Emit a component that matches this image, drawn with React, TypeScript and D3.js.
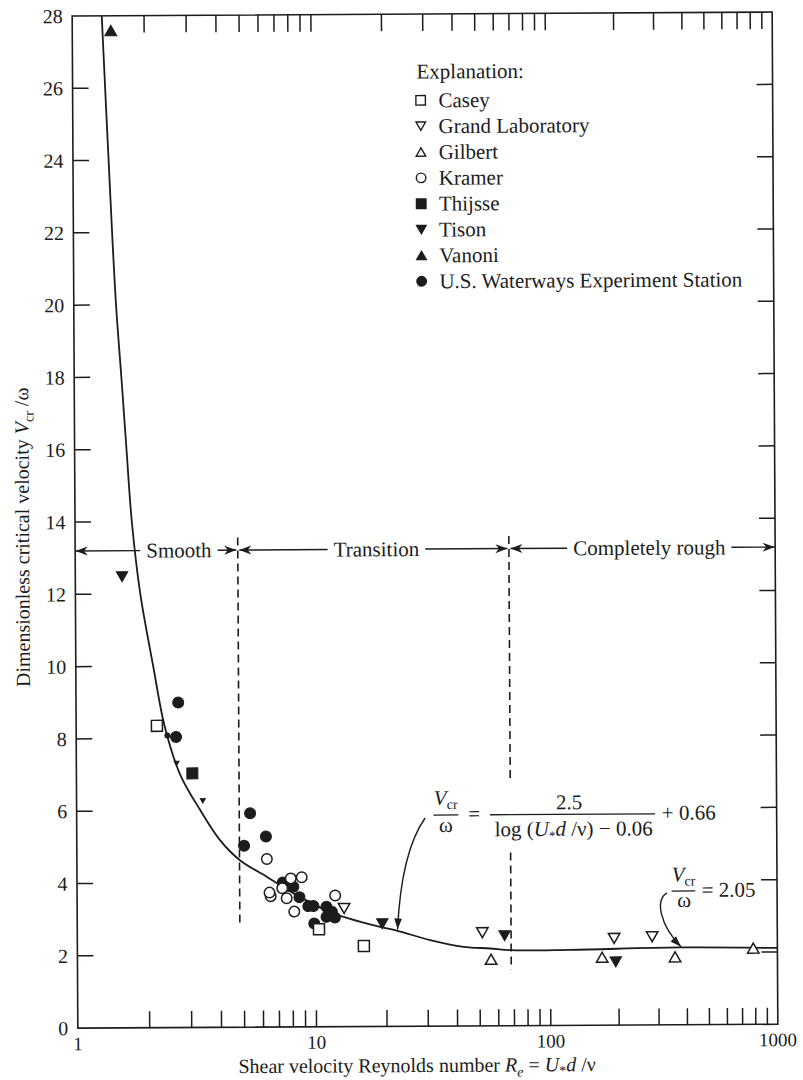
import { useEffect, useRef } from "react";
import * as d3 from "d3";

type Pt = [number, number];

const casey: Pt[] = [[2.18, 8.35], [10.3, 2.7], [16.0, 2.23]];
const grandLab: Pt[] = [[13.2, 3.27], [51.3, 2.58], [191, 2.4], [281, 2.44]];
const gilbert: Pt[] = [[55.8, 1.84], [169, 1.88], [354, 1.88], [783, 2.11]];
const kramer: Pt[] = [
  [6.25, 4.65], [7.86, 4.11], [8.74, 4.14], [7.24, 3.84], [6.47, 3.62],
  [6.4, 3.72], [7.55, 3.56], [8.12, 3.19], [12.1, 3.63],
];
const thijsse: Pt[] = [[3.06, 7.03]];
const tison: Pt[] = [[1.57, 12.48], [19.2, 2.84], [63.8, 2.49], [194, 1.75]];
const tisonSmall: Pt[] = [[2.63, 7.31], [3.38, 6.27]];
const vanoni: Pt[] = [[1.45, 27.59]];
const usw: Pt[] = [
  [2.68, 8.99], [2.62, 8.04], [5.33, 5.92], [6.2, 5.27], [5.02, 5.02],
  [7.28, 4.0], [8.06, 3.88], [7.8, 3.9], [8.54, 3.59], [9.3, 3.34],
  [9.77, 3.34], [11.1, 3.32], [11.7, 3.18], [11.1, 3.04], [12.05, 3.02],
  [9.84, 2.86],
];
const uswSmall: Pt[] = [[2.41, 8.08]];

// fitted curve as drawn
const curveRe = [1.33, 1.41, 1.5, 1.58, 1.65, 1.73, 1.87, 2.11, 2.35, 2.72, 3.29, 3.98, 4.82, 6.23, 8.04, 11.8, 18.6, 22.1, 30.7, 42.6, 55.3, 67.3, 122, 372, 1000];
const curveV = [28.0, 24.0, 20.1, 17.9, 16.0, 14.0, 12.0, 10.0, 8.33, 7.0, 6.02, 5.18, 4.62, 4.16, 3.7, 3.14, 2.76, 2.65, 2.38, 2.19, 2.14, 2.09, 2.09, 2.14, 2.11];

const legendNames = [
  "Casey", "Grand Laboratory", "Gilbert", "Kramer",
  "Thijsse", "Tison", "Vanoni", "U.S. Waterways Experiment Station",
];
const legendKinds = [
  "squareOpen", "downOpen", "upOpen", "circleOpen",
  "squareFilled", "downFilled", "upFilled", "circleFilled",
];

// ticks
const xLabels = [1, 10, 100, 1000];
const xMinor = [2, 3, 4, 5, 6, 7, 8, 9, 10, 20, 30, 40, 50, 60, 70, 80, 90, 100, 200, 300, 400, 500, 600, 700, 800, 900];
const yLabels = [0, 2, 4, 6, 8, 10, 12, 14, 16, 18, 20, 22, 24, 26, 28];
const yMinor = [2, 4, 6, 8, 10, 12, 14, 16, 18, 20, 22, 24, 26];

// flow regimes
const regionNames = ["Smooth", "Transition", "Completely rough"];
const regionEdges = [1, 4.8, 68, 1000];
const regionLabelRe = [2.72, 18.5, 279];
const regionRowV = 13.2;
// dashed boundaries: [Re, top, bottom]
const boundarySpans: [number, number, number][] = [
  [4.8, 13.55, 2.8],
  [68, 13.55, 6.73],
  [68, 4.79, 1.55],
];

const W = 803;
const H = 1080;
const tilt = -0.32;

function markerPath(kind: string, s: number) {
  const h = s * 0.87;
  const r = s / 2;
  if (kind.startsWith("square")) return `M${-r},${-r}h${s}v${s}h${-s}Z`;
  if (kind.startsWith("up")) return `M0,${-h / 2}L${r},${h / 2}L${-r},${h / 2}Z`;
  if (kind.startsWith("down")) return `M0,${h / 2}L${r},${-h / 2}L${-r},${-h / 2}Z`;
  const p = d3.path();
  p.arc(0, 0, r, 0, Math.PI * 2);
  return p.toString();
}

export default function App() {
  const ref = useRef<SVGSVGElement>(null);

  useEffect(() => {
    if (!ref.current) return;
    const svg = d3.select(ref.current);
    svg.selectAll("*").remove();

    const ink = "#1c1c1c";
    const font = "'Liberation Serif', 'Times New Roman', serif";

    // the scan has a slightly stretched last decade
    const x = d3.scaleLog().domain([1, 10, 100, 1000]).range([75, 313.7, 548, 775]);
    const y = d3.scaleLinear().domain([0, 28]).range([1026.2, 14]);

    svg.append("rect").attr("width", W).attr("height", H).attr("fill", "#fff");

    const g = svg
      .append("g")
      .attr("transform", `rotate(${tilt}, 425, 521)`)
      .attr("font-family", font)
      .attr("fill", ink);

    // frame
    g.append("rect")
      .attr("x", x(1))
      .attr("y", y(28))
      .attr("width", x(1000) - x(1))
      .attr("height", y(0) - y(28))
      .attr("fill", "none")
      .attr("stroke", ink)
      .attr("stroke-width", 1.6);

    // inward ticks
    const ticks = g.append("g").attr("stroke", ink).attr("stroke-width", 1.5);
    xMinor.forEach((v) => {
      ticks.append("line").attr("x1", x(v)).attr("x2", x(v)).attr("y1", y(0)).attr("y2", y(0) - 16.5);
      ticks.append("line").attr("x1", x(v)).attr("x2", x(v)).attr("y1", y(28)).attr("y2", y(28) + 17);
    });
    yMinor.forEach((v) => {
      ticks.append("line").attr("x1", x(1)).attr("x2", x(1) + 16).attr("y1", y(v)).attr("y2", y(v));
      ticks.append("line").attr("x1", x(1000) - 16).attr("x2", x(1000)).attr("y1", y(v)).attr("y2", y(v));
    });

    // tick labels
    g.append("g")
      .attr("font-size", 20)
      .attr("text-anchor", "end")
      .selectAll("text")
      .data(yLabels)
      .join("text")
      .attr("x", x(1) - 9.5)
      .attr("y", (d) => y(d) + 7)
      .text((d) => d);

    g.append("g")
      .attr("font-size", 19)
      .attr("text-anchor", "middle")
      .selectAll("text")
      .data(xLabels)
      .join("text")
      .attr("x", (d) => x(d))
      .attr("y", y(0) + 22)
      .text((d) => d);

    // axis titles
    const xt = g.append("text").attr("x", 414).attr("y", 1072).attr("font-size", 20).attr("text-anchor", "middle");
    xt.append("tspan").text("Shear velocity Reynolds number ");
    xt.append("tspan").attr("font-style", "italic").text("R");
    xt.append("tspan").attr("font-style", "italic").attr("font-size", 14).attr("dy", 5).text("e");
    xt.append("tspan").attr("dy", -5).text(" = ");
    xt.append("tspan").attr("font-style", "italic").text("U");
    xt.append("tspan").attr("font-size", 14).attr("dy", 4).text("*");
    xt.append("tspan").attr("font-style", "italic").attr("dy", -4).text("d");
    xt.append("tspan").text(" /ν");

    const yt = g
      .append("text")
      .attr("transform", "translate(29, 535) rotate(-90)")
      .attr("font-size", 20)
      .attr("text-anchor", "middle");
    yt.append("tspan").text("Dimensionless critical velocity ");
    yt.append("tspan").attr("font-style", "italic").text("V");
    yt.append("tspan").attr("font-size", 14).attr("dy", 5).text("cr");
    yt.append("tspan").attr("dy", -5).text(" /ω");

    // regime boundaries
    boundarySpans.forEach(([re, top, bot]) => {
      g.append("line")
        .attr("x1", x(re))
        .attr("x2", x(re))
        .attr("y1", y(top))
        .attr("y2", y(bot))
        .attr("stroke", ink)
        .attr("stroke-width", 1.6)
        .attr("stroke-dasharray", "8 5");
    });

    // regime arrows
    const rowY = y(regionRowV);
    const barb = (tip: number, dir: number) => {
      const L = 12, hw = 4.5, notch = 3.5;
      return `M${tip},${rowY}L${tip - dir * L},${rowY - hw}L${tip - dir * (L - notch)},${rowY}L${tip - dir * L},${rowY + hw}Z`;
    };
    regionNames.forEach((name, i) => {
      const a = x(regionEdges[i]) + (i === 0 ? 0.5 : 1.5);
      const b = x(regionEdges[i + 1]) - (i === 2 ? 0.5 : 1.5);
      const cx = x(regionLabelRe[i]);
      const t = g
        .append("text")
        .attr("x", cx)
        .attr("y", rowY + 7)
        .attr("font-size", 21)
        .attr("text-anchor", "middle")
        .text(name);
      const w = (t.node() as SVGTextElement).getComputedTextLength();
      const gap = 6;
      g.append("line").attr("x1", a).attr("x2", cx - w / 2 - gap).attr("y1", rowY).attr("y2", rowY).attr("stroke", ink).attr("stroke-width", 1.4);
      g.append("line").attr("x1", cx + w / 2 + gap).attr("x2", b).attr("y1", rowY).attr("y2", rowY).attr("stroke", ink).attr("stroke-width", 1.4);
      g.append("path").attr("d", barb(a, -1));
      g.append("path").attr("d", barb(b, 1));
    });

    // fitted curve
    const curvePts: Pt[] = curveRe.map((r, i) => [r, curveV[i]]);
    g.append("path")
      .datum(curvePts)
      .attr("fill", "none")
      .attr("stroke", ink)
      .attr("stroke-width", 1.8)
      .attr("d", d3.line<Pt>().x((d) => x(d[0])).y((d) => y(d[1])).curve(d3.curveCatmullRom.alpha(0.5)));

    // data markers
    const series: { kind: string; pts: Pt[]; size: number }[] = [
      { kind: "squareOpen", pts: casey, size: 11 },
      { kind: "downOpen", pts: grandLab, size: 11.5 },
      { kind: "upOpen", pts: gilbert, size: 11.5 },
      { kind: "circleOpen", pts: kramer, size: 10.5 },
      { kind: "squareFilled", pts: thijsse, size: 11 },
      { kind: "downFilled", pts: tison, size: 11.5 },
      { kind: "downFilled", pts: tisonSmall, size: 5 },
      { kind: "upFilled", pts: vanoni, size: 12 },
      { kind: "circleFilled", pts: usw, size: 11 },
      { kind: "circleFilled", pts: uswSmall, size: 5 },
    ];
    // filled first so open ones sit on top like in the print
    const order = [...series].sort((p, q) => Number(p.kind.endsWith("Open")) - Number(q.kind.endsWith("Open")));
    order.forEach((s) => {
      const open = s.kind.endsWith("Open");
      g.append("g")
        .selectAll("path")
        .data(s.pts)
        .join("path")
        .attr("transform", (d) => `translate(${x(d[0])},${y(d[1])})`)
        .attr("d", markerPath(s.kind, s.size))
        .attr("fill", open ? "#fff" : ink)
        .attr("stroke", ink)
        .attr("stroke-width", open ? 1.5 : 1);
    });

    // legend
    const lg = g.append("g").attr("font-size", 21);
    lg.append("text").attr("x", 419).attr("y", 78.5).text("Explanation:");
    legendNames.forEach((name, i) => {
      const by = 107.3 + i * 25.85;
      lg.append("path")
        .attr("transform", `translate(423,${by - 7})`)
        .attr("d", markerPath(legendKinds[i], 9.5))
        .attr("fill", legendKinds[i].endsWith("Open") ? "#fff" : ink)
        .attr("stroke", ink)
        .attr("stroke-width", 1.4);
      lg.append("text").attr("x", 440.7).attr("y", by).text(name);
    });

    // annotation arrows
    const head = (tip: [number, number], from: [number, number]) => {
      const ang = Math.atan2(tip[1] - from[1], tip[0] - from[0]);
      const L = 11, hw = 3.8;
      const bx = tip[0] - L * Math.cos(ang);
      const by = tip[1] - L * Math.sin(ang);
      const px = -Math.sin(ang) * hw;
      const py = Math.cos(ang) * hw;
      return `M${tip[0]},${tip[1]}L${bx + px},${by + py}L${bx - px},${by - py}Z`;
    };
    const P = (re: number, v: number): [number, number] => [x(re), y(v)];

    const a1s = P(29.4, 5.76), a1c = P(23.2, 4.82), a1t = P(22.3, 2.68);
    g.append("path")
      .attr("d", `M${a1s[0]},${a1s[1]}Q${a1c[0]},${a1c[1]} ${a1t[0]},${a1t[1]}`)
      .attr("fill", "none")
      .attr("stroke", ink)
      .attr("stroke-width", 1.4);
    g.append("path").attr("d", head(a1t, a1c));

    const a2s = P(327, 3.65), a2c1 = P(290, 3.45), a2c2 = P(304, 2.76), a2t = P(376, 2.16);
    g.append("path")
      .attr("d", `M${a2s[0]},${a2s[1]}C${a2c1[0]},${a2c1[1]} ${a2c2[0]},${a2c2[1]} ${a2t[0]},${a2t[1]}`)
      .attr("fill", "none")
      .attr("stroke", ink)
      .attr("stroke-width", 1.4);
    g.append("path").attr("d", head(a2t, a2c2));

    // equation: Vcr/w = 2.5 / (log(U*d/v) - 0.06) + 0.66
    const [f1x, f1y] = P(31.9, 5.84);
    const f1 = g.append("g").attr("transform", `translate(${f1x},${f1y})`).attr("font-size", 21);
    const v1 = f1.append("text").attr("x", 0.5).attr("y", -10);
    v1.append("tspan").attr("font-style", "italic").text("V");
    v1.append("tspan").attr("font-size", 14).attr("dy", 4).text("cr");
    f1.append("line").attr("x1", 0).attr("x2", 25).attr("stroke", ink).attr("stroke-width", 1.3);
    f1.append("text").attr("x", 12.5).attr("y", 17).attr("text-anchor", "middle").text("ω");
    f1.append("text").attr("x", 40.7).attr("y", 6).attr("text-anchor", "middle").text("=");
    f1.append("text").attr("x", 135.7).attr("y", -5).attr("text-anchor", "middle").text("2.5");
    f1.append("line").attr("x1", 56.7).attr("x2", 221.7).attr("stroke", ink).attr("stroke-width", 1.3);
    const den = f1.append("text").attr("x", 140.2).attr("y", 21.5).attr("text-anchor", "middle");
    den.append("tspan").text("log (");
    den.append("tspan").attr("font-style", "italic").text("U");
    den.append("tspan").attr("font-size", 13).attr("dy", 4).text("*");
    den.append("tspan").attr("font-style", "italic").attr("dy", -4).text("d");
    den.append("tspan").text(" /ν) − 0.06");
    f1.append("text").attr("x", 228.4).attr("y", 6).text("+ 0.66");

    // equation: Vcr/w = 2.05
    const [f2x, f2y] = P(343.4, 3.7);
    const f2 = g.append("g").attr("transform", `translate(${f2x},${f2y})`).attr("font-size", 21);
    const v2 = f2.append("text").attr("x", 0).attr("y", -9.5);
    v2.append("tspan").attr("font-style", "italic").text("V");
    v2.append("tspan").attr("font-size", 14).attr("dy", 4).text("cr");
    f2.append("line").attr("x1", 0).attr("x2", 23.5).attr("stroke", ink).attr("stroke-width", 1.3);
    f2.append("text").attr("x", 12.5).attr("y", 16).attr("text-anchor", "middle").text("ω");
    f2.append("text").attr("x", 30).attr("y", 6).text("= 2.05");
  }, []);

  return (
    <svg
      ref={ref}
      width={W}
      height={H}
      style={{ position: "absolute", left: 0, top: 0, display: "block" }}
    />
  );
}
